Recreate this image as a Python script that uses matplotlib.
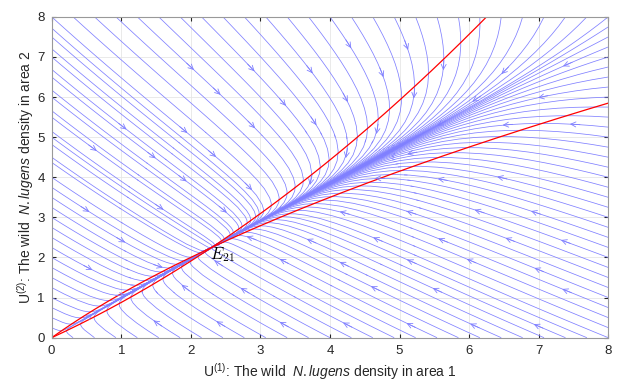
import matplotlib
matplotlib.use("Agg")
import matplotlib.pyplot as plt
import numpy as np

# two-patch model: U1' = U1(a1 - b1 U1) + D(U2 - U1), U2' = U2(a2 - b2 U2) + D(U1 - U2)
a1, b1 = 0.1976, 0.0764
a2, b2 = 0.1936, 0.0959
D = 1.0

x_ticks = [0, 1, 2, 3, 4, 5, 6, 7, 8]
y_ticks = [0, 1, 2, 3, 4, 5, 6, 7, 8]
eq_label = r'$E_{21}$'

plt.rcParams['font.family'] = ['Liberation Sans', 'DejaVu Sans']
plt.rcParams['mathtext.fontset'] = 'custom'
plt.rcParams['mathtext.rm'] = 'Liberation Sans'
plt.rcParams['mathtext.it'] = 'Liberation Sans:italic'

BLUE = (0.5, 0.5, 1.0)

def field(u1, u2):
  du1 = u1 * (a1 - b1 * u1) + D * (u2 - u1)
  du2 = u2 * (a2 - b2 * u2) + D * (u1 - u2)
  return du1, du2

if __name__ == '__main__':
  fig = plt.figure(figsize=(6.28, 3.84), dpi=100)
  ax = fig.add_axes([0.0823, 0.1206, 0.8863, 0.8355])
  ax.set_xlim(0, 8)
  ax.set_ylim(0, 8)

  g = np.linspace(0, 8, 200)
  U1, U2 = np.meshgrid(g, g)
  V1, V2 = field(U1, U2)
  sp = ax.streamplot(U1, U2, V1, V2, density=(0.9, 1.1), color=BLUE,
                     linewidth=0.55, arrowstyle='-', broken_streamlines=False)

  # arrow heads spread over the plane, each put on the nearest streamline point
  pts = np.concatenate([np.asarray(s_) for s_ in sp.lines.get_segments()])
  sx, sy = 69.6, 40.1  # pixels per data unit
  for j, yc in enumerate(np.arange(0.4, 8, 0.7)):
    for xc in np.arange(0.55 + 0.45 * (j % 2), 8, 0.92):
      d2 = ((pts[:, 0] - xc) * sx)**2 + ((pts[:, 1] - yc) * sy)**2
      k = np.argmin(d2)
      if d2[k] > 36:
        continue
      px, py = pts[k]
      v1, v2 = field(px, py)
      dx, dy = v1 * sx, v2 * sy
      n = np.hypot(dx, dy)
      if n == 0:
        continue
      dx, dy = dx / n * 5 / sx, dy / n * 5 / sy
      ax.annotate('', xy=(px + dx, py + dy), xytext=(px - dx, py - dy),
                  arrowprops=dict(arrowstyle='->', color=BLUE, lw=0.6,
                                  mutation_scale=9, shrinkA=0, shrinkB=0))

  # nullclines
  s = np.linspace(0, 8, 400)
  ax.plot(s, s * (1 - a1 / D) + b1 * s**2 / D, color='red', lw=0.9)
  ax.plot(s * (1 - a2 / D) + b2 * s**2 / D, s, color='red', lw=0.9)

  # equilibrium E21 by Newton iteration
  p = np.array([2.0, 2.0])
  for _ in range(50):
    f = np.array(field(p[0], p[1]))
    J = np.array([[a1 - 2 * b1 * p[0] - D, D], [D, a2 - 2 * b2 * p[1] - D]])
    p = p - np.linalg.solve(J, f)
  ax.annotate(eq_label, xy=(p[0], p[1]), xytext=(-1, -5), textcoords='offset points',
              fontsize=12, math_fontfamily='cm', va='center', ha='left')

  ax.set_xticks(x_ticks)
  ax.set_yticks(y_ticks)
  ax.grid(True, color=(0.9, 0.9, 0.9), lw=0.6)
  ax.set_axisbelow(True)
  ax.tick_params(direction='in', top=True, right=True, labelsize=9.5,
                 colors=(0.15, 0.15, 0.15), length=3, pad=5)
  for s_ in ax.spines.values():
    s_.set_color((0.6, 0.6, 0.6))
  ax.set_xlabel(r'U$^{(1)}$: The wild  $\it{N.lugens}$ density in area 1', fontsize=10,
                color=(0.15, 0.15, 0.15), labelpad=3)
  ax.set_ylabel(r'U$^{(2)}$: The wild  $\it{N.lugens}$ density in area 2', fontsize=10,
                color=(0.15, 0.15, 0.15), labelpad=1)
  plt.savefig("out.png", dpi=100)
